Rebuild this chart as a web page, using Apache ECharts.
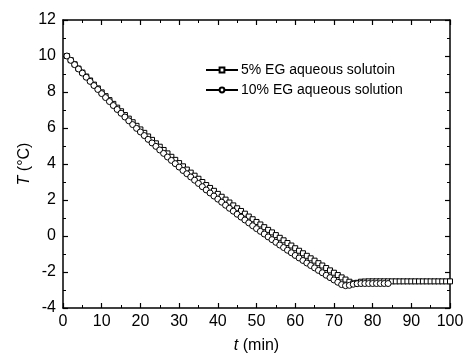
<!DOCTYPE html>
<html>
<head>
<meta charset="utf-8">
<script src="https://cdn.jsdelivr.net/npm/echarts@6/dist/echarts.min.js"></script>
<style>
  html, body { margin: 0; padding: 0; background: #fff; }
  #chart { width: 468px; height: 356px; }
</style>
</head>
<body>
<div id="chart"></div>
<script>
// temperature readings, one per minute starting at t = 1 min
const eg5 = [
  10.00, 9.77, 9.54, 9.30, 9.08, 8.86, 8.64, 8.41, 8.20, 7.98,
  7.77, 7.55, 7.34, 7.13, 6.93, 6.72, 6.52, 6.32, 6.12, 5.92,
  5.73, 5.53, 5.34, 5.15, 4.96, 4.78, 4.59, 4.40, 4.23, 4.05,
  3.87, 3.69, 3.52, 3.35, 3.18, 3.00, 2.83, 2.67, 2.51, 2.34,
  2.18, 2.02, 1.86, 1.70, 1.54, 1.39, 1.24, 1.08, 0.93, 0.78,
  0.64, 0.49, 0.34, 0.20, 0.05, -0.10, -0.24, -0.39, -0.53, -0.68,
  -0.82, -0.96, -1.10, -1.24, -1.37, -1.51, -1.64, -1.78, -1.91, -2.04,
  -2.17, -2.30, -2.42, -2.54, -2.63, -2.60, -2.54, -2.53, -2.52, -2.52,
  -2.52, -2.52, -2.52, -2.52, -2.52, -2.52, -2.52, -2.52, -2.52, -2.52,
  -2.52, -2.52, -2.52, -2.52, -2.52, -2.52, -2.52, -2.52, -2.52, -2.52
];
const eg10 = [
  10.00, 9.76, 9.52, 9.28, 9.05, 8.82, 8.59, 8.36, 8.14, 7.91,
  7.69, 7.47, 7.25, 7.03, 6.82, 6.61, 6.40, 6.19, 5.98, 5.78,
  5.58, 5.37, 5.17, 4.98, 4.78, 4.59, 4.39, 4.20, 4.02, 3.83,
  3.64, 3.46, 3.28, 3.10, 2.92, 2.74, 2.56, 2.39, 2.22, 2.05,
  1.88, 1.71, 1.54, 1.38, 1.21, 1.05, 0.89, 0.73, 0.57, 0.41,
  0.26, 0.11, -0.05, -0.20, -0.35, -0.50, -0.64, -0.79, -0.93, -1.08,
  -1.22, -1.36, -1.50, -1.64, -1.77, -1.91, -2.04, -2.18, -2.31, -2.44,
  -2.57, -2.70, -2.76, -2.74, -2.68, -2.65, -2.64, -2.64, -2.64, -2.64,
  -2.64, -2.64, -2.64, -2.64
];
const seriesNames = ['5% EG aqueous solutoin', '10% EG aqueous solution'];

const font = 'Arial, "Liberation Sans", sans-serif';
const black = '#000';

const toPoints = (arr) => arr.map((v, i) => [i + 1, v]);

const chart = echarts.init(document.getElementById('chart'));

const axisCommon = {
  axisLine: { show: true, onZero: false, lineStyle: { color: black, width: 1.5 } },
  axisTick: { show: true, inside: true, length: 5, lineStyle: { color: black, width: 1.2 } },
  minorTick: { show: true, splitNumber: 2, length: 3, lineStyle: { color: black, width: 1 } },
  splitLine: { show: false }
};

chart.setOption({
  animation: false,
  grid: { left: 63, right: 18, top: 20, bottom: 48, outerBoundsMode: 'none', containLabel: false },
  legend: {
    orient: 'vertical',
    left: 200,
    top: 58,
    itemWidth: 32,
    itemHeight: 6,
    itemGap: 6,
    textStyle: { fontFamily: font, fontSize: 14, color: black, padding: [0, 0, 0, -2] },
    data: seriesNames
  },
  xAxis: [
    Object.assign({}, axisCommon, {
      type: 'value', min: 0, max: 100, interval: 10,
      name: '{i|t} (min)',
      nameLocation: 'middle',
      nameGap: 30,
      nameMoveOverlap: false,
      nameTextStyle: {
        fontFamily: font, fontSize: 16, color: black,
        rich: { i: { fontStyle: 'italic', fontFamily: font, fontSize: 16, color: black } }
      },
      axisLabel: { fontFamily: font, fontSize: 16, color: black, margin: 6 }
    }),
    Object.assign({}, axisCommon, {
      type: 'value', min: 0, max: 100, interval: 10, position: 'top',
      axisLabel: { show: false }
    })
  ],
  yAxis: [
    Object.assign({}, axisCommon, {
      type: 'value', min: -4, max: 12, interval: 2,
      name: '{i|T} (°C)',
      nameLocation: 'middle',
      nameGap: 30,
      nameMoveOverlap: false,
      nameTextStyle: {
        fontFamily: font, fontSize: 16, color: black,
        rich: { i: { fontStyle: 'italic', fontFamily: font, fontSize: 16, color: black } }
      },
      axisLabel: { fontFamily: font, fontSize: 16, color: black, margin: 7 }
    }),
    Object.assign({}, axisCommon, {
      type: 'value', min: -4, max: 12, interval: 2, position: 'right',
      axisLabel: { show: false }
    })
  ],
  series: [
    {
      name: seriesNames[0],
      type: 'line',
      data: toPoints(eg5),
      symbol: 'rect',
      symbolSize: 5,
      showAllSymbol: true,
      lineStyle: { color: black, width: 1 },
      itemStyle: { color: '#fff', borderColor: black, borderWidth: 1 }
    },
    {
      name: seriesNames[1],
      type: 'line',
      data: toPoints(eg10),
      symbol: 'circle',
      symbolSize: 6,
      showAllSymbol: true,
      lineStyle: { color: black, width: 1 },
      itemStyle: { color: '#fff', borderColor: black, borderWidth: 1 }
    }
  ]
});
</script>
</body>
</html>
